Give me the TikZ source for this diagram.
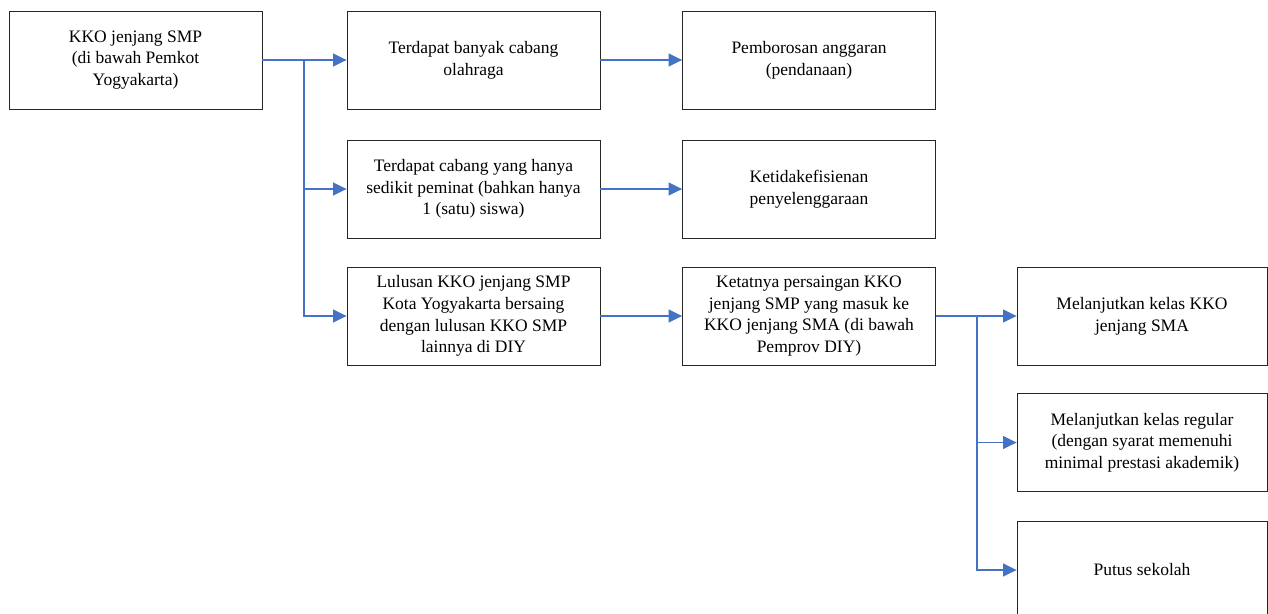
\documentclass[tikz,border=0pt]{standalone}
\usepackage{fontspec}
\setmainfont{Liberation Serif}
\usetikzlibrary{arrows.meta}
\definecolor{lineblue}{HTML}{4472C4}
\tikzset{
  box/.style={draw=black!85, line width=0.9pt, minimum width=253pt, minimum height=98pt,
    inner sep=0pt, align=center, font=\fontsize{17.5}{21.7}\selectfont},
  boxr/.style={box, minimum width=250pt},
  conn/.style={draw=lineblue, line width=1.2pt, -{Triangle[length=13.5pt,width=13pt]}},
  plain/.style={draw=lineblue, line width=1.2pt}
}
\begin{document}
\begin{tikzpicture}[x=1pt,y=-1pt]
\useasboundingbox (0,0) rectangle (1268,613);
\clip (0,0) rectangle (1268,613);
\node[box] (A) at (135.5,60) {KKO jenjang SMP\\(di bawah Pemkot\\Yogyakarta)};
\node[box] (B) at (473.5,60) {Terdapat banyak cabang\\olahraga};
\node[box] (C) at (809,60) {Pemborosan anggaran\\(pendanaan)};
\node[box] (D) at (473.5,189) {Terdapat cabang yang hanya\\sedikit peminat (bahkan hanya\\1 (satu) siswa)};
\node[box] (E) at (809,189) {Ketidakefisienan\\penyelenggaraan};
\node[box] (F) at (473.5,316) {Lulusan KKO jenjang SMP\\Kota Yogyakarta bersaing\\dengan lulusan KKO SMP\\lainnya di DIY};
\node[box] (G) at (809,316) {Ketatnya persaingan KKO\\jenjang SMP yang masuk ke\\KKO jenjang SMA (di bawah\\Pemprov DIY)};
\node[boxr] (H) at (1142,316) {Melanjutkan kelas KKO\\jenjang SMA};
\node[boxr] (I) at (1142,442.5) {Melanjutkan kelas regular\\(dengan syarat memenuhi\\minimal prestasi akademik)};
\node[boxr] (J) at (1142,570) {Putus sekolah};
\coordinate (j1) at (304,60);
\coordinate (j2) at (977,316);
\draw[conn] (A.east) -- (B.west);
\draw[conn] (j1) |- (D.west);
\draw[conn] (j1) |- (F.west);
\draw[conn] (B.east) -- (C.west);
\draw[conn] (D.east) -- (E.west);
\draw[conn] (F.east) -- (G.west);
\draw[conn] (G.east) -- (H.west);
\draw[conn] (j2) |- (I.west);
\draw[conn] (j2) |- (J.west);
\end{tikzpicture}
\end{document}
